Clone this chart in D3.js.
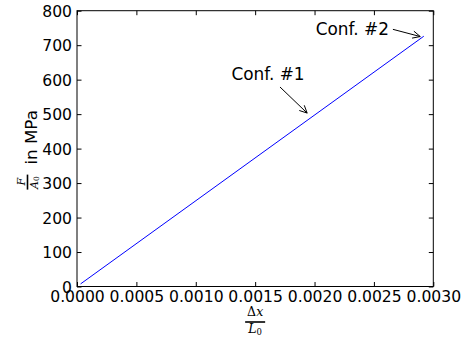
<!DOCTYPE html>
<html>
<head>
<meta charset="utf-8">
<script src="https://cdn.jsdelivr.net/npm/d3@7"></script>
<style>
  body { margin: 0; background: #fff; }
</style>
</head>
<body>
<script>
// stress vs strain, straight line
var w = 462, h = 337;
var m = {top: 10.7, right: 28.7, bottom: 50.5, left: 77};

// data
var strain = [0.00003, 0.00292];
var stress = [7.5, 726];
var xTicks = [0, 0.0005, 0.001, 0.0015, 0.002, 0.0025, 0.003];
var yTicks = [0, 100, 200, 300, 400, 500, 600, 700, 800];
var notes = ["Conf. #1", "Conf. #2"];
var noteAt = [[0.001938, 503], [0.00289, 725]];      // arrow tips (data)
var noteText = [[0.0013, 599], [0.00201, 730]];      // text left/baseline (data)

var iw = w - m.left - m.right, ih = h - m.top - m.bottom;

var svg = d3.select("body").append("svg")
  .attr("width", w)
  .attr("height", h)
  .attr("font-family", "DejaVu Sans");

var g = svg.append("g").attr("transform", "translate(" + m.left + "," + m.top + ")");

var x = d3.scaleLinear().domain([0, 0.003]).range([0, iw]);
var y = d3.scaleLinear().domain([0, 800]).range([ih, 0]);

// axes, ticks pointing inward like old matplotlib
function styleAxis(sel) {
  sel.attr("font-family", "DejaVu Sans").attr("font-size", "15.6px");
  sel.select(".domain").remove();
  sel.selectAll(".tick line").attr("stroke", "#000").attr("stroke-width", 1);
  sel.selectAll("text").attr("fill", "#000");
}

g.append("g").attr("transform", "translate(0," + ih + ")")
  .call(d3.axisBottom(x).tickValues(xTicks).tickFormat(d3.format(".4f"))
    .tickSizeInner(-4.5).tickSizeOuter(0).tickPadding(3))
  .call(styleAxis)
  .selectAll("text").attr("dy", "0.78em");

g.append("g")
  .call(d3.axisTop(x).tickValues(xTicks).tickFormat("").tickSizeInner(-4.5).tickSizeOuter(0))
  .call(styleAxis);

g.append("g")
  .call(d3.axisLeft(y).tickValues(yTicks).tickFormat(d3.format("d"))
    .tickSizeInner(-4.5).tickSizeOuter(0).tickPadding(5))
  .call(styleAxis)
  .selectAll("text").attr("dy", "0.36em");

g.append("g").attr("transform", "translate(" + iw + ",0)")
  .call(d3.axisRight(y).tickValues(yTicks).tickFormat("").tickSizeInner(-4.5).tickSizeOuter(0))
  .call(styleAxis);

// frame
g.append("rect")
  .attr("width", iw).attr("height", ih)
  .attr("fill", "none").attr("stroke", "#000").attr("stroke-width", 1);

// the line
var pts = strain.map(function(d, i) { return [d, stress[i]]; });
g.append("path")
  .datum(pts)
  .attr("fill", "none")
  .attr("stroke", "#0000ff")
  .attr("stroke-width", 1)
  .attr("d", d3.line().x(function(d) { return x(d[0]); }).y(function(d) { return y(d[1]); }));

// annotations with "->" arrows
notes.forEach(function(t, i) {
  var tx = x(noteText[i][0]), ty = y(noteText[i][1]);
  var txt = g.append("text")
    .attr("x", tx).attr("y", ty)
    .attr("font-size", "16.9px")
    .text(t);
  var bb = txt.node().getBBox();
  var cx = bb.x + bb.width / 2, cy = bb.y + bb.height / 2;
  var ex = x(noteAt[i][0]), ey = y(noteAt[i][1]);
  var sx, sy;
  if (i == 0) { sx = cx + 12; sy = bb.y + bb.height + 3; }  // below text
  else { sx = bb.x + bb.width + 4; sy = cy + 0.5; }          // right of text
  var ang = Math.atan2(ey - sy, ex - sx);
  var hl = 7.5, hw = 3.6;
  var bx = ex - hl * Math.cos(ang), by = ey - hl * Math.sin(ang);
  var px = -Math.sin(ang) * hw, py = Math.cos(ang) * hw;
  g.append("path")
    .attr("d", "M" + sx + "," + sy + "L" + ex + "," + ey +
      "M" + (bx + px) + "," + (by + py) + "L" + ex + "," + ey + "L" + (bx - px) + "," + (by - py))
    .attr("fill", "none").attr("stroke", "#000").attr("stroke-width", 1);
});

// x label: Δx / L0
var xl = svg.append("g").attr("transform", "translate(" + (m.left + iw / 2) + ",322)");
xl.append("text").attr("y", -6).attr("text-anchor", "middle")
  .attr("font-family", "DejaVu Serif").attr("font-size", "12.5px")
  .html('Δ<tspan font-style="italic">x</tspan>');
xl.append("line").attr("x1", -10).attr("x2", 10).attr("stroke", "#000").attr("stroke-width", 1.6);
xl.append("text").attr("y", 11).attr("text-anchor", "middle")
  .attr("font-family", "DejaVu Serif").attr("font-size", "12.5px")
  .html('<tspan font-style="italic">L</tspan><tspan font-size="8.5px" dy="2">0</tspan>');

// y label: F / A0 in MPa
var yl = svg.append("g").attr("transform", "translate(37," + (m.top + ih / 2) + ") rotate(-90)");
yl.append("text").attr("x", -33).attr("y", -12.5).attr("text-anchor", "middle")
  .attr("font-family", "DejaVu Serif").attr("font-size", "11px").attr("font-style", "italic")
  .text("F");
yl.append("line").attr("x1", -41).attr("x2", -26).attr("y1", -9.5).attr("y2", -9.5)
  .attr("stroke", "#000").attr("stroke-width", 1.6);
yl.append("text").attr("x", -34).attr("y", 0.5).attr("text-anchor", "middle")
  .attr("font-family", "DejaVu Serif").attr("font-size", "11px")
  .html('<tspan font-style="italic">A</tspan><tspan font-size="7.5px" dy="1.5">0</tspan>');
yl.append("text").attr("x", -16).attr("y", 0)
  .attr("font-size", "16.7px")
  .text("in MPa");
</script>
</body>
</html>
